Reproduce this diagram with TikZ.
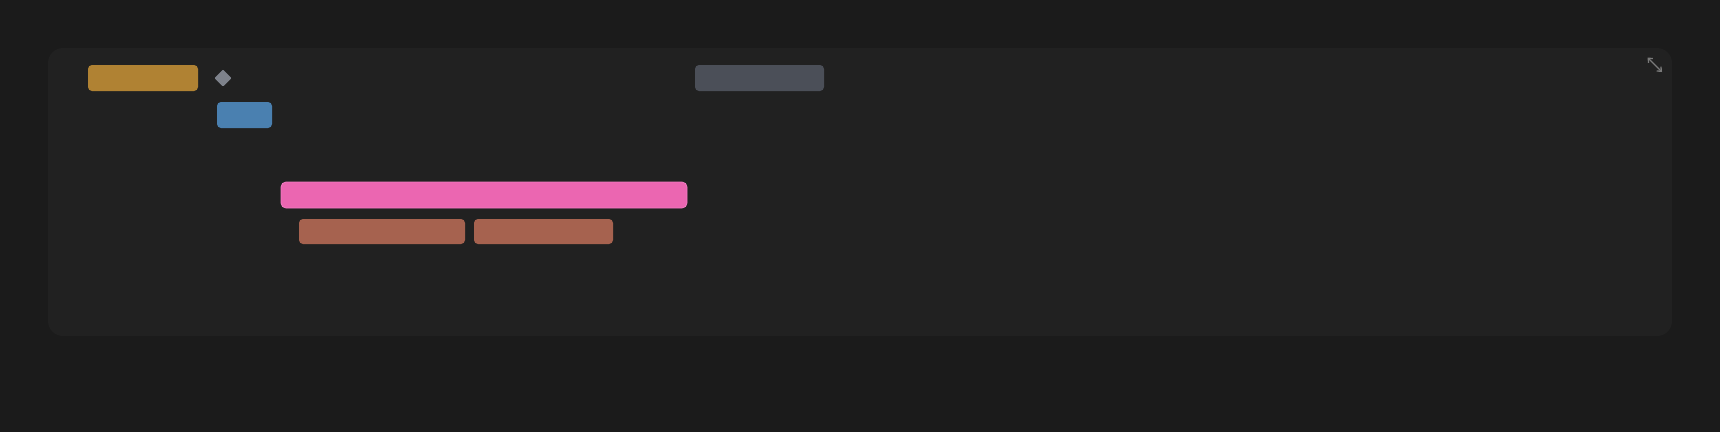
\documentclass[tikz,border=0pt]{standalone}
\usetikzlibrary{arrows.meta}
\definecolor{bgc}{HTML}{1B1B1B}
\definecolor{panelc}{HTML}{212121}
\definecolor{goldc}{HTML}{B08233}
\definecolor{bluec}{HTML}{4A80B0}
\definecolor{grayc}{HTML}{4B4F58}
\definecolor{pinkc}{HTML}{EB66B1}
\definecolor{pinkb}{HTML}{F27CC2}
\definecolor{brownc}{HTML}{A6624F}
\definecolor{diamc}{HTML}{7E828B}
\definecolor{iconc}{HTML}{7A7A7A}
\tikzset{
  bar/.style={rectangle, rounded corners=4pt, inner sep=0pt, outer sep=0pt, anchor=north west, draw=none},
}
\begin{document}
\begin{tikzpicture}[x=1pt,y=-1pt]
\fill[bgc] (0,0) rectangle (1720,432);
\useasboundingbox (0,0) rectangle (1720,432);
\fill[panelc, rounded corners=15pt] (48,48) rectangle (1672,336);
\node[bar, fill=goldc, minimum width=110pt, minimum height=26pt] (gold) at (88,65) {};
\node[bar, fill=bluec, minimum width=55pt, minimum height=26pt] (blue) at (217,102) {};
\node[bar, fill=grayc, minimum width=129pt, minimum height=26pt] (gray) at (695,65) {};
\node[bar, fill=pinkc, draw=pinkb, line width=0.8pt, minimum width=406pt, minimum height=26pt, rounded corners=5pt] (pink) at (281,182) {};
\node[bar, fill=brownc, minimum width=166pt, minimum height=25pt] (brownA) at (299,219) {};
\node[bar, fill=brownc, minimum width=139pt, minimum height=25pt] (brownB) at (474,219) {};
\fill[diamc, rounded corners=1pt] (223,69.5) -- (231.5,78) -- (223,86.5) -- (214.5,78) -- cycle;
\coordinate (icA) at (1647.5,57.5);
\coordinate (icB) at (1662,72);
\draw[iconc, line width=1.3pt, {Straight Barb[length=3.5pt,width=6pt]}-{Straight Barb[length=3.5pt,width=6pt]}] (icA) -- (icB);
\end{tikzpicture}
\end{document}
